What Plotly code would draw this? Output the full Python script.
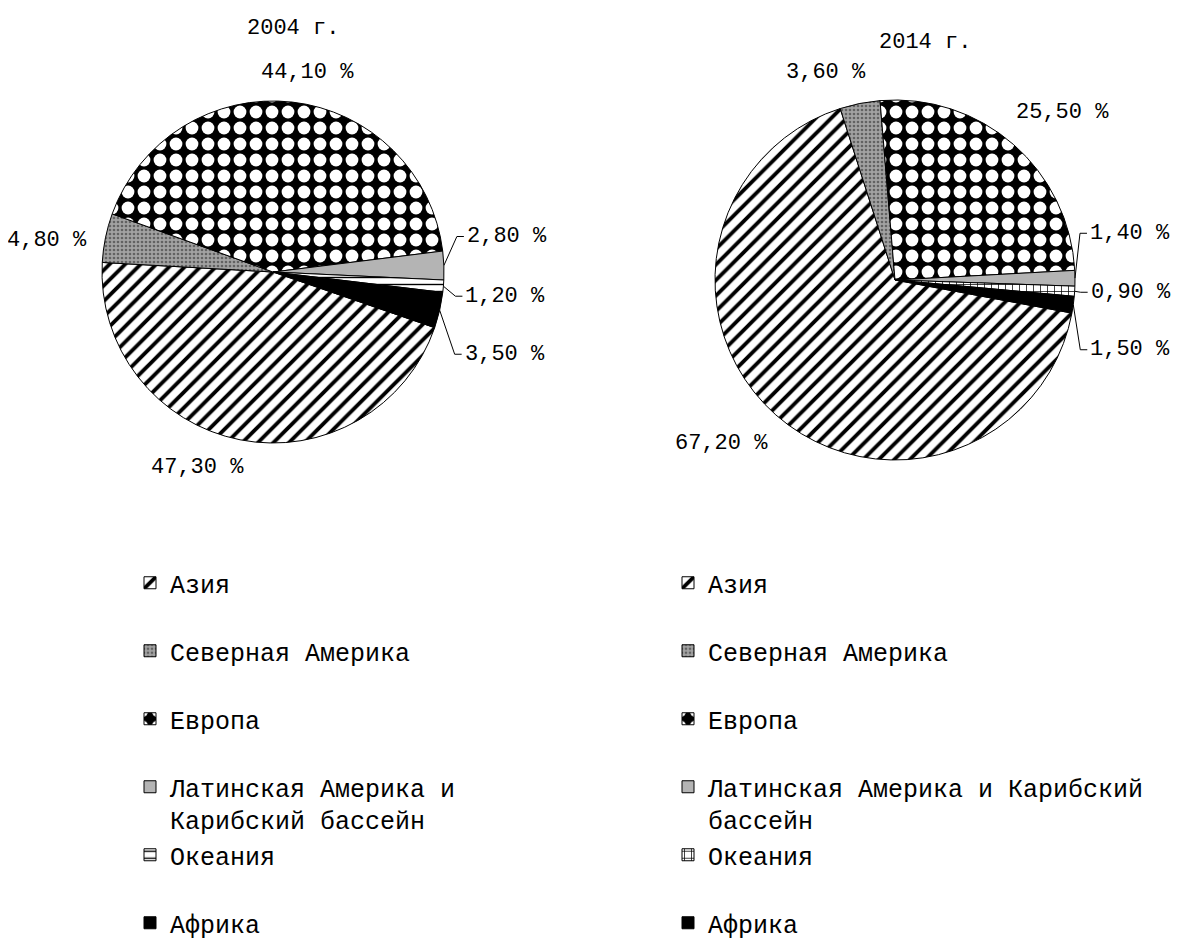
import math
import plotly.graph_objects as go

# the page body has an 8px margin, so the figure is shrunk by that amount
OFF = 8
W, H = 1182 - OFF, 942 - OFF

# data
regions = ["Азия", "Северная Америка", "Европа",
           "Латинская Америка и Карибский бассейн", "Океания", "Африка"]
share_2004 = [47.3, 4.8, 44.1, 2.8, 1.2, 3.5]
share_2014 = [67.2, 3.6, 25.5, 1.4, 0.9, 1.5]
years = ["2004 г.", "2014 г."]

# legend text (line breaks as in the original)
legend_2004 = ["Азия", "Северная Америка", "Европа",
               "Латинская Америка и<br>Карибский бассейн", "Океания", "Африка"]
legend_2014 = ["Азия", "Северная Америка", "Европа",
               "Латинская Америка и Карибский<br>бассейн", "Океания", "Африка"]

# styles
fill = ["white", "#a2a2a2", "black", "#b4b4b4", "white", "black"]
fg = ["black", "#626262", "white", "black", "black", "black"]
psize = [11, 4, 16, 8, 7, 8]
psolid = [0.35, 0.35, 0.5, 0.3, 0.2, 0.3]
shapes_2004 = ["/", ".", ".", "", "-", ""]
shapes_2014 = ["/", ".", ".", "", "+", ""]

MONO = "Courier New, Liberation Mono, monospace"

# pie geometry in screen pixels: centre, radius, angle of first slice
pies = [
    dict(vals=share_2004, leg=legend_2004, shapes=shapes_2004,
         cx=273, cy=272, r=171, rot=109, title_xy=(293, 28), legend_xy=(130, 560),
         # label offsets from slice edge (px); leader=True -> elbow line, text left-anchored
         offs=[(-43, 28, False), (-58, 3, False), (15, -30, False),
               (21, -29, True), (20, 10, True), (23, 44, True)]),
    dict(vals=share_2014, leg=legend_2014, shapes=shapes_2014,
         cx=895, cy=280, r=180, rot=100.6, title_xy=(925, 42), legend_xy=(668, 560),
         offs=[(-54, 29, False), (-34, -31, False), (49, -32, False),
               (13, -45, True), (14, 1, True), (15, 45, True)]),
]


def px(x):
    return (x - OFF) / W


def py(y):
    return 1 - (y - OFF) / H


def fmt(v):
    return f"{v:.2f}".replace(".", ",") + " %"


fig = go.Figure()
annotations = []
shapes = []

for i, p in enumerate(pies):
    legend_id = "legend" if i == 0 else "legend2"
    # every entry takes two lines, like the evenly spread Excel legend
    labels = [s if "<br>" in s else s + "<br>\u00a0" for s in p["leg"]]
    fig.add_trace(go.Pie(
        labels=labels,
        values=p["vals"],
        sort=False,
        direction="clockwise",
        rotation=p["rot"],
        textinfo="none",
        hoverinfo="label+value",
        legend=legend_id,
        legendgroup=f"g{i}",
        marker=dict(
            colors=fill,
            line=dict(color="black", width=1),
            pattern=dict(shape=p["shapes"], fgcolor=fg, fgopacity=1, size=psize,
                         solidity=psolid, fillmode="overlay"),
        ),
        domain=dict(x=[px(p["cx"] - p["r"]), px(p["cx"] + p["r"])],
                    y=[py(p["cy"] + p["r"]), py(p["cy"] - p["r"])]),
    ))

    total = sum(p["vals"])
    cum = 0
    for v, (dx, dy, leader) in zip(p["vals"], p["offs"]):
        mid = p["rot"] + 360 * (cum + v / 2) / total
        cum += v
        a = math.radians(mid)
        ex = p["cx"] + p["r"] * math.sin(a)
        ey = p["cy"] - p["r"] * math.cos(a)
        lx, ly = ex + dx, ey + dy
        if leader:
            shapes.append(dict(
                type="path", xref="paper", yref="paper",
                path=f"M{px(ex)},{py(ey)} L{px(lx - 8)},{py(ly)} L{px(lx - 1)},{py(ly)}",
                line=dict(color="black", width=1)))
            annotations.append(dict(x=px(lx), y=py(ly), xref="paper", yref="paper",
                                    text=fmt(v), showarrow=False, xanchor="left",
                                    yanchor="middle", font=dict(size=22)))
        else:
            annotations.append(dict(x=px(lx), y=py(ly), xref="paper", yref="paper",
                                    text=fmt(v), showarrow=False, xanchor="center",
                                    yanchor="middle", font=dict(size=22)))

    tx, ty = p["title_xy"]
    annotations.append(dict(x=px(tx), y=py(ty), xref="paper", yref="paper",
                            text=years[i], showarrow=False, xanchor="center",
                            yanchor="middle", font=dict(size=22)))

legend_style = dict(font=dict(family=MONO, size=25, color="black"),
                    valign="top", bgcolor="rgba(0,0,0,0)", borderwidth=0,
                    xanchor="left", yanchor="top", traceorder="normal")

fig.update_layout(
    width=W, height=H,
    margin=dict(l=0, r=0, t=0, b=0, autoexpand=False),
    paper_bgcolor="white",
    plot_bgcolor="white",
    font=dict(family=MONO, size=22, color="black"),
    annotations=annotations,
    shapes=shapes,
    legend=dict(x=px(pies[0]["legend_xy"][0]), y=py(pies[0]["legend_xy"][1]), **legend_style),
    legend2=dict(x=px(pies[1]["legend_xy"][0]), y=py(pies[1]["legend_xy"][1]), **legend_style),
)

fig.write_html("out.html")
